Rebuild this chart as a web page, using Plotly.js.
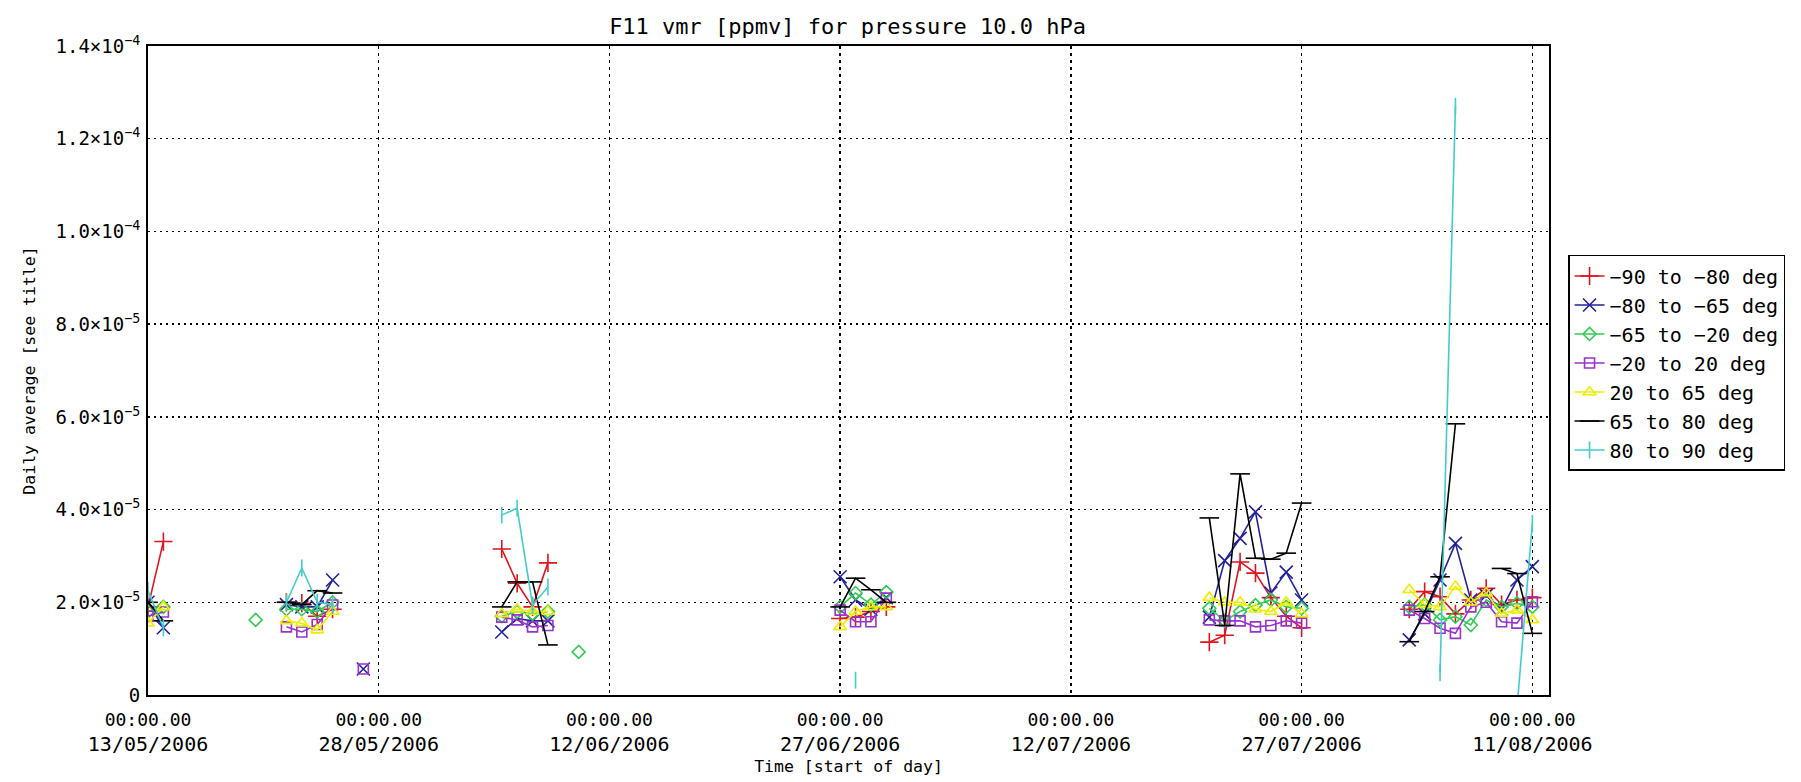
<!DOCTYPE html>
<html>
<head>
<meta charset="utf-8">
<script src="https://cdn.plot.ly/plotly-3.0.1.min.js"></script>
<style>html,body{margin:0;padding:0;background:#fff;}#chart{width:1801px;height:782px;}</style>
</head>
<body>
<div id="chart"></div>
<script>
const N = null;
const dates = ['2006-05-13','2006-05-14','2006-05-15','2006-05-19','2006-05-20','2006-05-21','2006-05-22','2006-05-23','2006-05-24','2006-05-25','2006-05-26','2006-05-27','2006-05-28','2006-06-05','2006-06-06','2006-06-07','2006-06-08','2006-06-09','2006-06-10','2006-06-11','2006-06-27','2006-06-28','2006-06-29','2006-06-30','2006-07-01','2006-07-21','2006-07-22','2006-07-23','2006-07-24','2006-07-25','2006-07-26','2006-07-27','2006-07-28','2006-08-03','2006-08-04','2006-08-05','2006-08-06','2006-08-07','2006-08-08','2006-08-09','2006-08-10','2006-08-11'];

const seriesNames = ['\u221290 to \u221280 deg','\u221280 to \u221265 deg','\u221265 to \u221220 deg','\u221220 to 20 deg','20 to 65 deg','65 to 80 deg','80 to 90 deg'];

const sMinus90 = [1.9e-5,3.31e-5,N,N,N,N,2.0e-5,1.98e-5,1.7e-5,1.85e-5,N,N,N,3.15e-5,2.41e-5,1.9e-5,2.85e-5,N,N,N,1.65e-5,1.68e-5,1.8e-5,1.9e-5,N,1.14e-5,1.29e-5,2.87e-5,2.63e-5,2.1e-5,1.7e-5,1.45e-5,N,1.85e-5,2.23e-5,2.12e-5,1.75e-5,2.05e-5,2.3e-5,1.95e-5,2.05e-5,2.1e-5];
const sMinus80 = [2.0e-5,1.45e-5,N,N,N,N,1.95e-5,1.9e-5,1.9e-5,2.48e-5,N,0.56e-5,N,1.36e-5,1.65e-5,1.6e-5,1.6e-5,N,N,N,2.55e-5,2.05e-5,1.85e-5,2.1e-5,N,1.68e-5,2.9e-5,3.38e-5,3.95e-5,2.2e-5,2.65e-5,2.05e-5,N,1.19e-5,1.75e-5,2.48e-5,3.27e-5,2.05e-5,2.15e-5,1.85e-5,2.48e-5,2.77e-5];
const sMinus65 = [1.8e-5,1.9e-5,N,N,1.62e-5,N,1.85e-5,1.85e-5,1.8e-5,2.0e-5,N,N,N,1.7e-5,1.8e-5,1.75e-5,1.8e-5,N,0.93e-5,N,1.9e-5,2.2e-5,1.95e-5,2.22e-5,N,1.87e-5,1.6e-5,1.8e-5,1.94e-5,2.05e-5,1.9e-5,1.87e-5,N,1.9e-5,1.95e-5,1.62e-5,1.69e-5,1.51e-5,2.05e-5,1.9e-5,1.98e-5,1.9e-5];
const sMinus20 = [1.7e-5,1.79e-5,N,N,N,N,1.47e-5,1.36e-5,1.52e-5,1.94e-5,N,0.56e-5,N,1.68e-5,1.62e-5,1.47e-5,1.5e-5,N,N,N,1.83e-5,1.58e-5,1.58e-5,2.09e-5,N,1.62e-5,1.6e-5,1.6e-5,1.47e-5,1.5e-5,1.6e-5,1.55e-5,N,1.83e-5,1.65e-5,1.44e-5,1.33e-5,1.9e-5,2.0e-5,1.58e-5,1.55e-5,2.01e-5];
const sPlus20 = [1.55e-5,1.9e-5,N,N,N,N,1.6e-5,1.55e-5,1.4e-5,1.8e-5,N,N,N,1.75e-5,1.85e-5,1.8e-5,1.8e-5,N,N,N,1.47e-5,1.8e-5,1.9e-5,1.9e-5,N,2.1e-5,2.0e-5,2.0e-5,1.85e-5,1.8e-5,2.0e-5,1.75e-5,N,2.27e-5,1.95e-5,1.9e-5,2.34e-5,2.0e-5,2.2e-5,1.76e-5,1.83e-5,1.62e-5];
const sPlus65 = [2.0e-5,1.6e-5,N,N,N,N,2.0e-5,1.95e-5,2.25e-5,2.2e-5,N,N,N,1.9e-5,2.44e-5,2.44e-5,1.08e-5,N,N,N,1.9e-5,2.52e-5,2.27e-5,2.0e-5,N,3.82e-5,1.5e-5,4.77e-5,2.95e-5,2.93e-5,3.06e-5,4.14e-5,N,1.15e-5,1.8e-5,2.55e-5,5.85e-5,N,N,2.73e-5,2.62e-5,1.33e-5];
const sPlus80 = [2.25e-5,1.45e-5,N,N,N,N,2.0e-5,2.74e-5,2.0e-5,1.95e-5,N,N,N,3.88e-5,4.03e-5,1.94e-5,2.33e-5,N,N,N,N,0.32e-5,N,N,N,N,N,N,N,N,N,N,N,N,N,0.48e-5,12.7e-5,N,N,N,-0.3e-5,3.7e-5];

const tickDates = ['2006-05-13','2006-05-28','2006-06-12','2006-06-27','2006-07-12','2006-07-27','2006-08-11'];
const tickTimeText = ['00:00.00','00:00.00','00:00.00','00:00.00','00:00.00','00:00.00','00:00.00'];
const tickDateText = ['13/05/2006','28/05/2006','12/06/2006','27/06/2006','12/07/2006','27/07/2006','11/08/2006'];
const yTickVals = [0,2e-5,4e-5,6e-5,8e-5,1.0e-4,1.2e-4,1.4e-4];
const yTickText = ['0','2.0\u00d710<sup>\u22125</sup>','4.0\u00d710<sup>\u22125</sup>','6.0\u00d710<sup>\u22125</sup>','8.0\u00d710<sup>\u22125</sup>','1.0\u00d710<sup>\u22124</sup>','1.2\u00d710<sup>\u22124</sup>','1.4\u00d710<sup>\u22124</sup>'];

const allSeries = [sMinus90, sMinus80, sMinus65, sMinus20, sPlus20, sPlus65, sPlus80];
const colors = ['#e0141c','#22229a','#33cc55','#9933cc','#eeee00','#000000','#44cccc'];
const symbols = ['cross-thin-open','x-thin-open','diamond-open','square-open','triangle-up-open','line-ew-open','line-ns-open'];
const sizes = [13,13,10,10,11,14,12];

const FONT = 'DejaVu Sans Mono, monospace';
const traces = allSeries.map((vals, i) => ({
  type: 'scatter',
  mode: 'lines+markers',
  x: dates,
  y: vals,
  name: seriesNames[i],
  line: {color: colors[i], width: 1.6},
  marker: {symbol: symbols[i], size: sizes[i], color: colors[i], line: {color: colors[i], width: 1.6}},
  connectgaps: false,
  cliponaxis: true
}));
// carrier (no visible marks) so that the second-row date labels axis is drawn
traces.push({
  type: 'scatter', mode: 'markers', x: tickDates, y: tickDates.map(() => null),
  xaxis: 'x2', yaxis: 'y', showlegend: false, hoverinfo: 'skip', marker: {opacity: 0}
});

const xRange = ['2006-05-13', '2006-08-12 02:00'];

const layout = {
  width: 1801, height: 782,
  paper_bgcolor: '#ffffff', plot_bgcolor: '#ffffff',
  margin: {l: 148, r: 252, t: 46, b: 87},
  font: {family: FONT, size: 18, color: '#000'},
  title: {text: 'F11 vmr [ppmv] for pressure 10.0 hPa', font: {family: FONT, size: 22, color: '#000'}, x: 0.4706, xanchor: 'center', y: 0.967, yanchor: 'middle'},
  showlegend: true,
  legend: {x: 1.0136, xanchor: 'left', y: 0.678, yanchor: 'top', bgcolor: '#fff', bordercolor: '#000', borderwidth: 1.5, font: {family: FONT, size: 20, color: '#000'}, tracegroupgap: 0, itemwidth: 30},
  xaxis: {
    type: 'date',
    range: xRange,
    tickvals: tickDates,
    ticktext: tickTimeText,
    tickfont: {family: FONT, size: 18, color: '#000'},
    ticklabelstandoff: 7,
    showgrid: true, gridcolor: '#000', gridwidth: 1.5, griddash: '3px,4px',
    showline: true, linecolor: '#000', linewidth: 2, mirror: true,
    ticks: '', zeroline: false
  },
  xaxis2: {
    type: 'date',
    overlaying: 'x',
    side: 'bottom',
    anchor: 'y',
    range: xRange,
    tickvals: tickDates,
    ticktext: tickDateText,
    tickfont: {family: FONT, size: 20, color: '#000'},
    ticklabelstandoff: 35,
    showgrid: false, showline: false, ticks: '', zeroline: false,
    title: {text: 'Time [start of day]', font: {family: FONT, size: 16.5, color: '#000'}, standoff: 5}
  },
  yaxis: {
    range: [0, 1.4e-4],
    tickvals: yTickVals,
    ticktext: yTickText,
    tickfont: {family: FONT, size: 19, color: '#000'},
    ticklabelstandoff: 2,
    showgrid: true, gridcolor: '#000', gridwidth: 1.5, griddash: '2px,4px',
    showline: true, linecolor: '#000', linewidth: 2, mirror: true,
    ticks: '', zeroline: false,
    title: {text: 'Daily average [see title]', font: {family: FONT, size: 16.5, color: '#000'}, standoff: 16}
  }
};

Plotly.newPlot('chart', traces, layout, {displayModeBar: false, staticPlot: true});
</script>
</body>
</html>
